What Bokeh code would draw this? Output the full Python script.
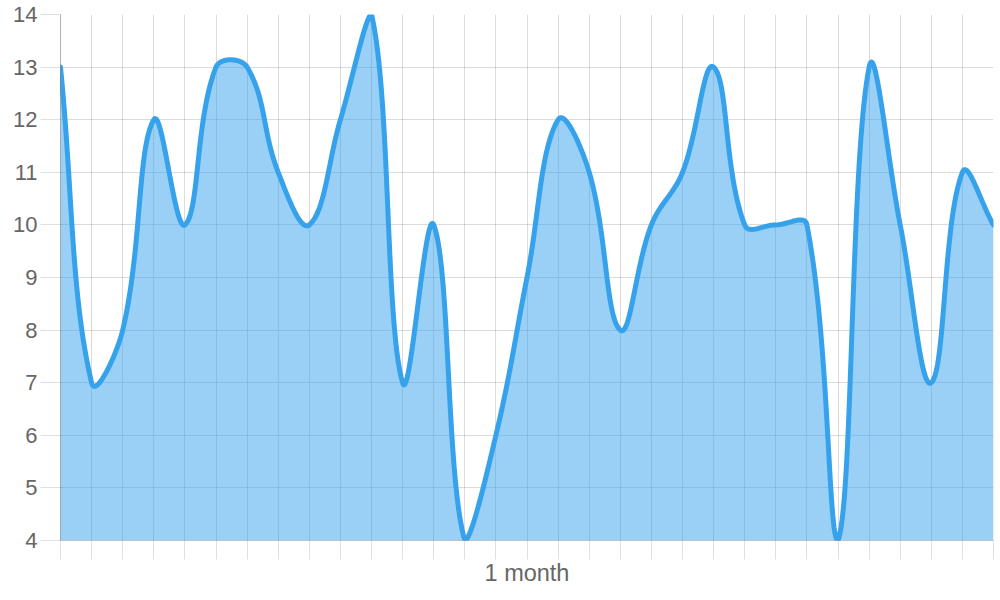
import numpy as np
from bokeh.plotting import figure
from bokeh.models import FixedTicker, Range1d
from bokeh.embed import file_html
from bokeh.resources import INLINE

# ---- data ----
days = list(range(31))
values = [13, 7, 8, 12, 10, 13, 13, 11, 10, 12, 14, 7, 10, 4, 6, 9,
          12, 11, 8, 10, 11, 13, 10, 10, 10, 4, 13, 10, 7, 11, 10]
y_ticks = list(range(4, 15))
x_label = "1 month"

# ---- geometry ----
W, H = 996, 592
BL, BR, BT, BB = 60, 3, 14, 52
FW, FH = W - BL - BR, H - BT - BB
X0, X1 = 0, 30
Y0, Y1 = 4, 14
sx = FW / (X1 - X0)
sy = FH / (Y1 - Y0)

# Chart.js-style tension spline (tension 0.4), computed in pixel space
def spline_curve(xs, ys, t=0.4, steps=40):
    px = [(x - X0) * sx for x in xs]
    py = [(Y1 - y) * sy for y in ys]
    n = len(px)
    cprev, cnext = [], []
    for i in range(n):
        a = max(i - 1, 0)
        c = min(i + 1, n - 1)
        d01 = np.hypot(px[i] - px[a], py[i] - py[a])
        d12 = np.hypot(px[c] - px[i], py[c] - py[i])
        tot = d01 + d12
        s01 = d01 / tot if tot else 0
        s12 = d12 / tot if tot else 0
        fa, fb = t * s01, t * s12
        dx, dy = px[c] - px[a], py[c] - py[a]
        cp = (min(max(px[i] - fa * dx, 0), FW), min(max(py[i] - fa * dy, 0), FH))
        cn = (min(max(px[i] + fb * dx, 0), FW), min(max(py[i] + fb * dy, 0), FH))
        cprev.append(cp)
        cnext.append(cn)
    outx, outy = [], []
    tt = np.linspace(0, 1, steps)
    for i in range(n - 1):
        p0 = np.array([px[i], py[i]])
        p1 = np.array(cnext[i])
        p2 = np.array(cprev[i + 1])
        p3 = np.array([px[i + 1], py[i + 1]])
        for k, u in enumerate(tt):
            if i > 0 and k == 0:
                continue
            b = ((1 - u) ** 3) * p0 + 3 * ((1 - u) ** 2) * u * p1 + 3 * (1 - u) * u * u * p2 + u ** 3 * p3
            outx.append(X0 + b[0] / sx)
            outy.append(Y1 - b[1] / sy)
    return np.array(outx), np.array(outy)

cx, cy = spline_curve(days, values)

FONT = "Liberation Sans"

p = figure(width=W, height=H, output_backend="svg", toolbar_location=None,
           x_range=Range1d(X0, X1), y_range=Range1d(Y0, Y1),
           min_border_left=BL, min_border_right=BR, min_border_top=BT, min_border_bottom=BB)
p.outline_line_color = None
p.background_fill_color = "white"

p.varea(x=cx, y1=Y0, y2=cy, fill_color="#36a2eb", fill_alpha=0.5)
p.line(x=cx, y=cy, line_color="#36a2eb", line_width=5, line_join="round", line_cap="round")

# grid
p.xgrid.ticker = FixedTicker(ticks=days)
p.ygrid.ticker = FixedTicker(ticks=y_ticks)
for g in (p.xgrid, p.ygrid):
    g.grid_line_color = "black"
    g.grid_line_alpha = 0.14
    g.grid_line_width = 1

# x axis (tick marks only, no tick labels)
xa = p.xaxis[0]
xa.ticker = FixedTicker(ticks=days)
xa.major_label_text_font_size = "1px"
xa.major_label_text_color = None
xa.major_label_standoff = 0
xa.minor_tick_line_color = None
xa.major_tick_out = 19
xa.major_tick_in = 0
xa.major_tick_line_color = "black"
xa.major_tick_line_alpha = 0.12
xa.axis_line_color = "black"
xa.axis_line_alpha = 0.2
xa.axis_label = x_label
xa.axis_label_text_font = FONT
xa.axis_label_text_font_size = "23.5px"
xa.axis_label_text_font_style = "normal"
xa.axis_label_text_color = "#666666"
xa.axis_label_standoff = 0

# y axis
ya = p.yaxis[0]
ya.ticker = FixedTicker(ticks=y_ticks)
ya.minor_tick_line_color = None
ya.major_tick_out = 20
ya.major_tick_in = 0
ya.major_tick_line_color = "black"
ya.major_tick_line_alpha = 0.12
ya.axis_line_color = "black"
ya.axis_line_alpha = 0.3
ya.major_label_text_font = FONT
ya.major_label_text_font_size = "22px"
ya.major_label_text_color = "#666666"
ya.major_label_standoff = 3

open("out.html", "w").write(file_html(p, INLINE))
